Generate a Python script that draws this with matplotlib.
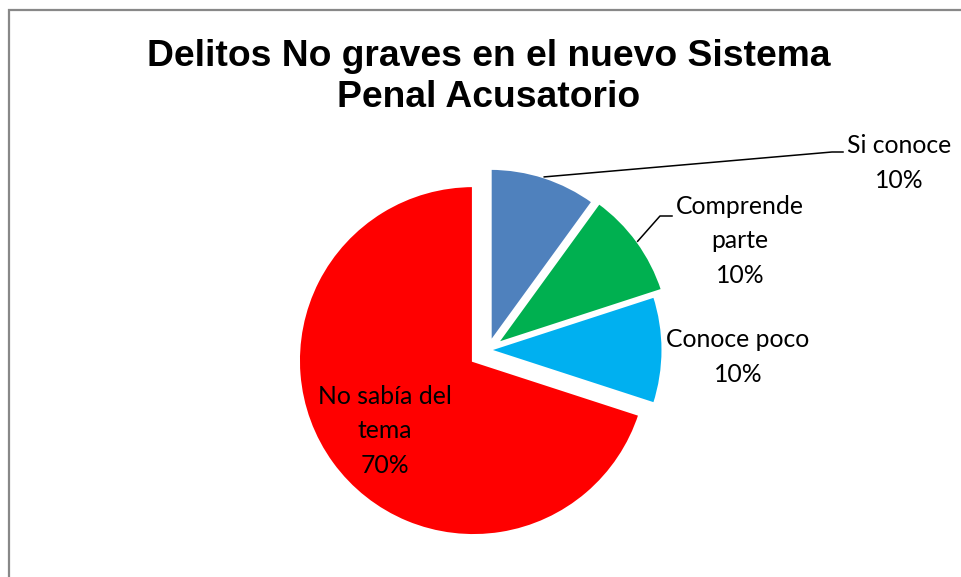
import numpy as np
import matplotlib
matplotlib.use("Agg")
import matplotlib.pyplot as plt

# ---- data ----
categories = ["Si conoce", "Comprende\nparte", "Conoce poco", "No sabía del\ntema"]
values = [10, 10, 10, 70]
colors = ["#4F81BD", "#00B050", "#00B0F0", "#FF0000"]
title = "Delitos No graves en el nuevo Sistema\nPenal Acusatorio"

# ---- layout (pixel units) ----
W, H = 961, 577
R = 175
CX, CY = 488, H - 350
explode_px = [7, 10, 0, 18]

fig = plt.figure(figsize=(W / 100, H / 100), dpi=100)
ax = fig.add_axes([0, 0, 1, 1])

wedges, _ = ax.pie(values, colors=colors, startangle=90, counterclock=False,
                   explode=explode_px, center=(CX, CY), radius=R,
                   wedgeprops=dict(edgecolor="white", linewidth=2.2))
ax.set_xlim(0, W)
ax.set_ylim(0, H)
ax.set_aspect("equal")
ax.axis("off")

def arc_point(w, extra=0):
    th = np.deg2rad((w.theta1 + w.theta2) / 2)
    cx, cy = w.center
    return cx + (w.r + extra) * np.cos(th), cy + (w.r + extra) * np.sin(th)

lab_font = dict(family=["Lato", "DejaVu Sans"], fontsize=17.8, color="black",
                ha="center", va="center", linespacing=1.6)

labels = [f"{c}\n{v}%" for c, v in zip(categories, values)]

# Si conoce (leader line)
p = arc_point(wedges[0])
ax.plot([p[0], 832, 843], [p[1], H - 152, H - 152], color="black", lw=1.1)
ax.text(899, H - 163, labels[0], **lab_font)

# Comprende parte (leader line)
p = arc_point(wedges[1])
ax.plot([p[0], 660, 672], [p[1], H - 216, H - 216], color="black", lw=1.1)
ax.text(740, H - 241, labels[1], **lab_font)

# Conoce poco
ax.text(738, H - 357, labels[2], **lab_font)

# No sabía del tema
ax.text(385, H - 431, labels[3], **lab_font)

# title
fig.text(489 / W, 1 - 77 / H, title, ha="center", va="center",
         family="Liberation Sans", fontweight="bold", fontsize=26.8,
         linespacing=1.24)

# outer frame
ax.plot([8.5, 8.5, W + 5], [-5, H - 10, H - 10], color="#888888", lw=1.6,
        clip_on=False, solid_joinstyle="miter")

fig.savefig("out.png", dpi=100)
